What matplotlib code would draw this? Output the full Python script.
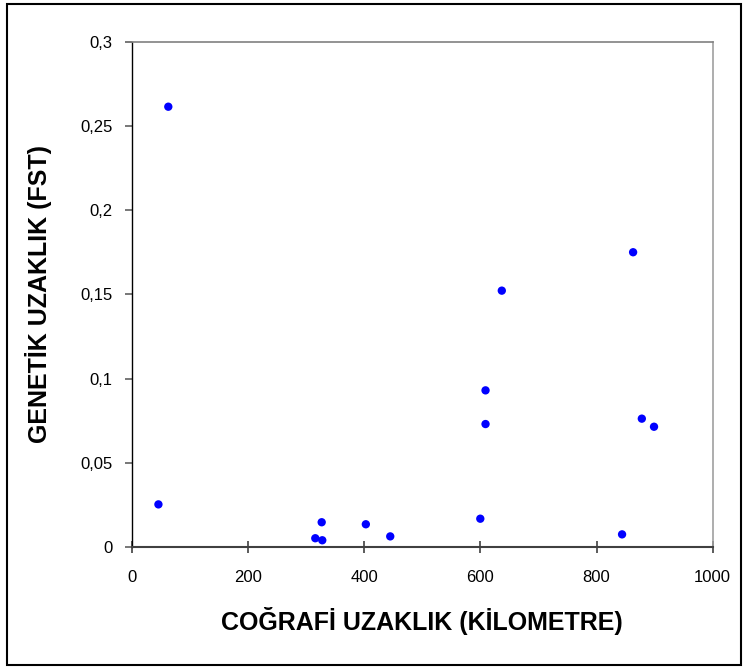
import matplotlib.pyplot as plt
from matplotlib.patches import Rectangle

# distance (km) vs genetic distance (Fst)
km = [46, 63, 316, 327, 328, 403, 445, 600, 609, 609, 637, 844, 863, 878, 899]
fst = [0.0253, 0.2614, 0.0052, 0.0147, 0.0040, 0.0135, 0.0063, 0.0168,
       0.093, 0.073, 0.1522, 0.0075, 0.175, 0.0762, 0.0714]

x_ticks = [0, 200, 400, 600, 800, 1000]
y_ticks = [0, 0.05, 0.1, 0.15, 0.2, 0.25, 0.3]
y_tick_labels = ["0", "0,05", "0,1", "0,15", "0,2", "0,25", "0,3"]


def main() -> None:
    plt.rcParams["font.family"] = ["Liberation Sans", "DejaVu Sans"]

    fig = plt.figure(figsize=(7.46, 6.69), dpi=100)
    W, H = 746, 669
    ax = fig.add_axes([131.7 / W, 1 - 547 / H, (712.7 - 131.7) / W, (547 - 41.7) / H])

    ax.scatter(km, fst, s=36, color="#0000ff", edgecolors="none", zorder=3, clip_on=False)

    ax.set_xlim(0, 1000)
    ax.set_ylim(0, 0.3)
    ax.set_xticks(x_ticks)
    ax.set_xticklabels([str(t) for t in x_ticks])
    ax.set_yticks(y_ticks)
    ax.set_yticklabels(y_tick_labels)

    ax.spines["left"].set_color("black")
    ax.spines["left"].set_linewidth(1.0)
    ax.spines["bottom"].set_color("#404040")
    ax.spines["bottom"].set_linewidth(1.5)
    ax.spines["top"].set_color("#808080")
    ax.spines["top"].set_linewidth(1.2)
    ax.spines["right"].set_color("#a0a0a0")
    ax.spines["right"].set_linewidth(1.2)

    ax.tick_params(axis="y", direction="out", length=5, width=1.2, color="#606060",
                   labelsize=12, pad=9)
    ax.tick_params(axis="x", direction="inout", length=9, width=1.2, color="#404040",
                   labelsize=12, pad=12)

    ax.set_xlabel("COĞRAFİ UZAKLIK (KİLOMETRE)", fontsize=18, fontweight="bold", labelpad=16)
    ax.set_ylabel("GENETİK UZAKLIK (FST)", fontsize=18, fontweight="bold", labelpad=20)

    fig.patches.append(Rectangle((7 / W, 1 - 665 / H), (741 - 7) / W, (665 - 4) / H,
                                 transform=fig.transFigure, fill=False,
                                 edgecolor="black", linewidth=1.5))

    fig.savefig("out.png", dpi=100)


if __name__ == "__main__":
    main()
